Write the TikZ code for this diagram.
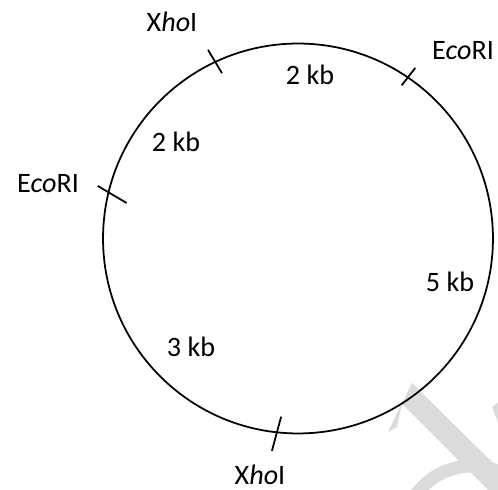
\documentclass[tikz,border=0pt]{standalone}
\usepackage{fontspec}
\setmainfont{Carlito}

\def\plasmid{(298,251.5) circle (3.9cm)}

\begin{document}
\begin{tikzpicture}[x=0.02cm,y=0.02cm]
    \tikzstyle{site}=[font=\fontsize{16}{19}\selectfont, anchor=base, inner sep=0pt]
    \tikzstyle{cut}=[line width=1pt]
    \useasboundingbox (0,0) rectangle (498,490);
    % faint watermark in the corner
    \begin{scope}
        \clip (0,0) rectangle (498,490);
        \fill[black!14] (388,58) -- (412,107) -- (498,22) -- (498,0) -- (488,0) -- (402,86) -- (397,63) -- cycle;
        \fill[black!14] (492,83) -- (498,87) -- (498,67) -- cycle;
        \draw[black!14, line width=0.26cm] ([shift={(150:69)}]472,-45) arc (150:40:69);
    \end{scope}
    \coordinate (c) at (298,251.5);
    \draw[line width=1pt] \plasmid;
    \foreach \a/\b/\ra/\rb in { 115.5/114.7/209/182, 55.5/55.9/207/185,
    165.3/168.3/207/175, 263/264.6/214/179 }
        \draw[cut] ([shift={(\a:\ra)}]c) -- ([shift={(\b:\rb)}]c);
    \foreach \n/\x/\y/\t in { xhoA/172/458/{X\textit{ho}I}, ecoA/463/430/{E\textit{co}RI},
    kbA/310/405/{2 kb}, kbB/176/338/{2 kb}, ecoB/48/297/{E\textit{co}RI},
    kbC/450/198/{5 kb}, kbD/191/133/{3 kb}, xhoB/260/5/{X\textit{ho}I} }
        \node[site] (\n) at (\x,\y) {\t};
\end{tikzpicture}
\end{document}
